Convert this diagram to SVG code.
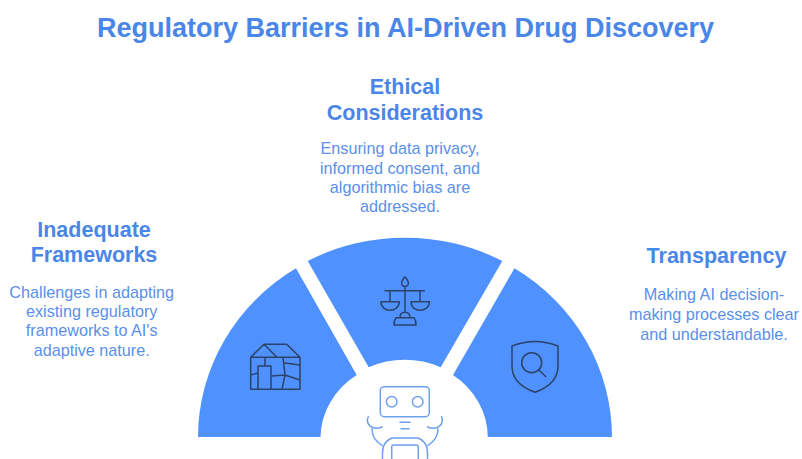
<svg xmlns="http://www.w3.org/2000/svg" width="802" height="459" viewBox="0 0 802 459">
<style>
text{font-family:"Liberation Sans",Arial,sans-serif;text-anchor:middle;fill:#4a86e8}
.h{font-weight:700;font-size:21.5px}
.b{font-size:16.200px;fill:#5a90ea}
.seg{fill:#4f92ff}
.ic{fill:none;stroke:#2c4268;stroke-width:1.500;stroke-linejoin:round;stroke-linecap:round}
.rb{fill:none;stroke:#6ea0ee;stroke-width:1.500;stroke-linejoin:round;stroke-linecap:round}
</style>
<rect width="802" height="459" fill="#fff"/>
<text x="405.500" y="37" style="font-weight:700;font-size:27px">Regulatory Barriers in AI-Driven Drug Discovery</text>
<g id="connectors"></g>
<g id="node-frameworks">
<path class="seg" d="M198 437A207 199 0 0 1 296 268.300L356.700 375A84 77 0 0 0 320.500 437Z"/>
<path class="ic" d="M250.700 357.300L264 344.300H286.700L300 357.300V389.300H250.700ZM250.700 357.300H277H300M264 344.300L277 357.300M265 357.300V365M258 389.300V366H271V389.300M250.700 375L258 373M271 376L285 375L282 389.300M285 375L283 357.300M285 363L300 365M285 375L300 380"/>
<text class="h" x="94" y="236.500">Inadequate</text>
<text class="h" x="94" y="262">Frameworks</text>
<text class="b" x="91.700" y="297.500">Challenges in adapting</text>
<text class="b" x="91.700" y="317">existing regulatory</text>
<text class="b" x="91.700" y="336">frameworks to AI's</text>
<text class="b" x="91.700" y="355.500">adaptive nature.</text>
</g>
<g id="node-ethical">
<path class="seg" d="M307.700 261A207 199 0 0 1 502.300 261L440.700 367.300A84 77 0 0 0 368.700 367.300Z"/>
<path class="ic" d="M405 276.700C402 280 401 283 402 285C403 287 407 287 408 285C409 283 408 280 405 276.700ZM385 290.700H424.300M405 286.700V312.300M390 290.700V301.700M420 290.700V301.700M381 301.700H399.300C399 313 381 313 381 301.700ZM411 301.700H429.500C429 313 411 313 411 301.700ZM400 317.700C400 314 402 312.300 405 312.300C408 312.300 410 314 410 317.700M396 317.700H414C415 319 416 322 416 325H394C394 322 395 319 396 317.700Z"/>
<text class="h" x="405" y="93.500">Ethical</text>
<text class="h" x="405" y="119.500">Considerations</text>
<text class="b" x="400" y="154">Ensuring data privacy,</text>
<text class="b" x="400" y="173.500">informed consent, and</text>
<text class="b" x="400" y="193">algorithmic bias are</text>
<text class="b" x="400" y="212">addressed.</text>
</g>
<g id="node-transparency">
<path class="seg" d="M514.500 268.300A207 199 0 0 1 612 437H487.800A84 77 0 0 0 453 375Z"/>
<path class="ic" d="M512 346C527 340 543 340 558 346V366C558 380 547 388 535 392.300C523 388 512 380 512 366ZM539 370L545.700 376.500"/>
<circle class="ic" cx="531.700" cy="362.700" r="10"/>
<text class="h" x="716.500" y="263">Transparency</text>
<text class="b" x="714" y="300">Making AI decision-</text>
<text class="b" x="714" y="320">making processes clear</text>
<text class="b" x="714" y="339.500">and understandable.</text>
</g>
<g id="node-robot">
<rect class="rb" x="380.300" y="386.700" width="49" height="30" rx="4"/>
<circle class="rb" cx="391.700" cy="401.700" r="5.300"/>
<circle class="rb" cx="417.700" cy="401.700" r="5.300"/>
<path class="rb" d="M400 422.300H410M401 428.700H409M368.300 416.700C365 424 372 431 382.300 427M441.500 416.700C444.500 424 438 431 427.500 427M372 429C372 437 376 441 382 445.500M438 429C438 437 434 441 428 445.500M382.500 459C382 448 383 442 392 438H418C427 442 428 448 427.500 459M391.700 459V447Q391.700 445 393.700 445H416.300Q418.300 445 418.300 447V459"/>
</g>
</svg>
